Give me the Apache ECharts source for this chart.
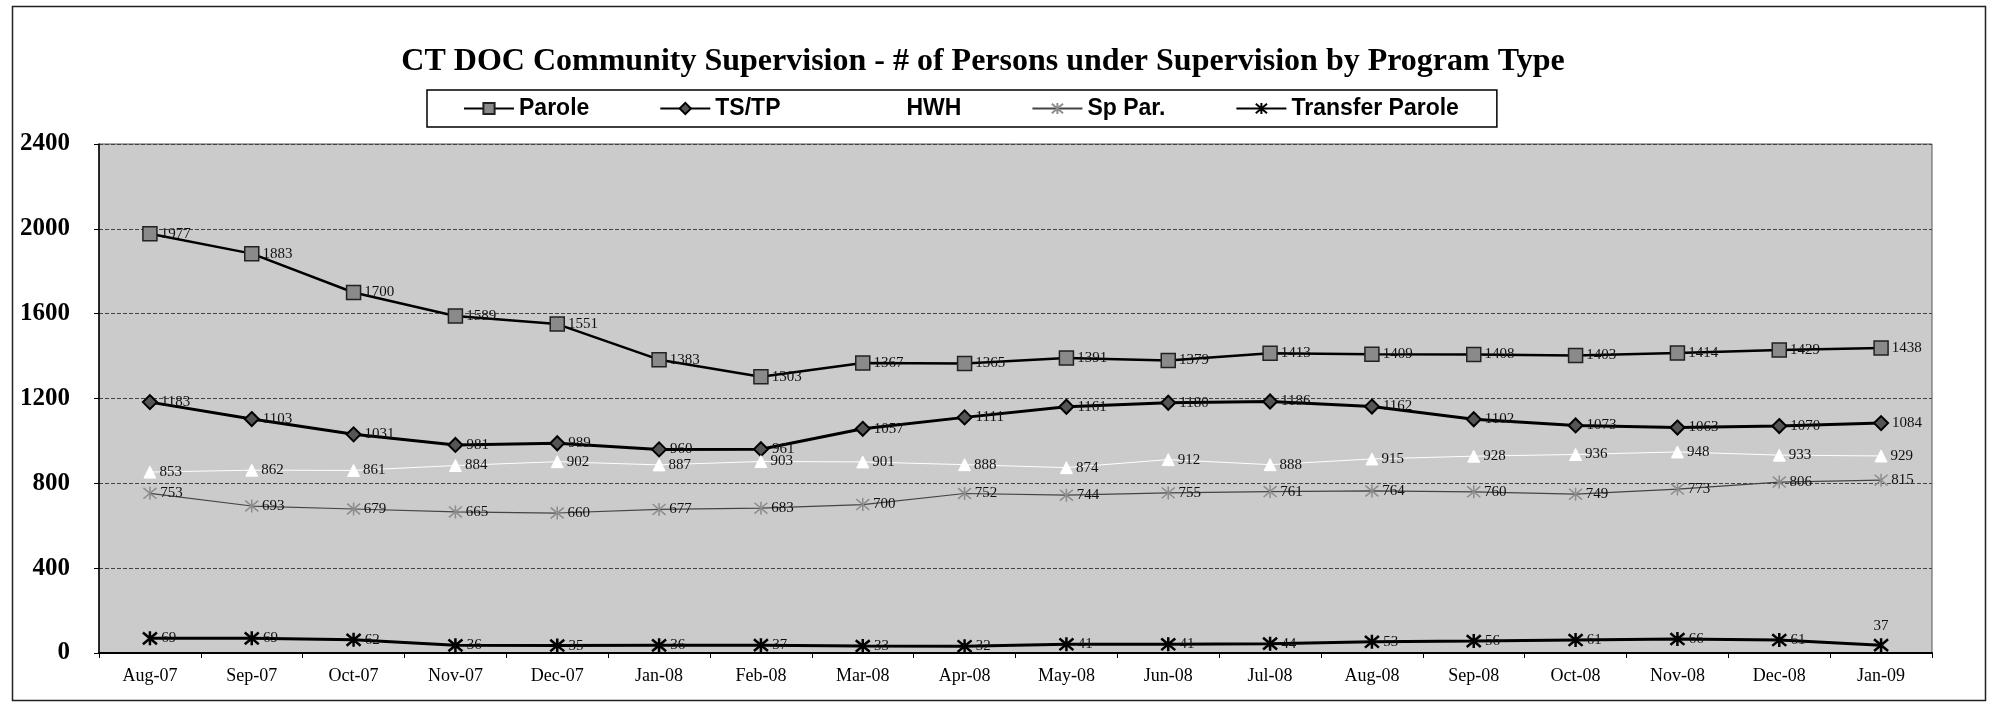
<!DOCTYPE html>
<html>
<head>
<meta charset="utf-8">
<script src="https://cdn.jsdelivr.net/npm/echarts@6/dist/echarts.min.js"></script>
<style>
  html, body { margin: 0; padding: 0; background: #fff; }
  #chart { width: 1989px; height: 707px; }
</style>
</head>
<body>
<div id="chart"></div>
<script>
var months = ['Aug-07', 'Sep-07', 'Oct-07', 'Nov-07', 'Dec-07', 'Jan-08', 'Feb-08', 'Mar-08', 'Apr-08',
    'May-08', 'Jun-08', 'Jul-08', 'Aug-08', 'Sep-08', 'Oct-08', 'Nov-08', 'Dec-08', 'Jan-09'];
var parole = [1977, 1883, 1700, 1589, 1551, 1383, 1303, 1367, 1365, 1391, 1379, 1413, 1409, 1408, 1403, 1414, 1429, 1438];
var tstp = [1183, 1103, 1031, 981, 989, 960, 961, 1057, 1111, 1161, 1180, 1186, 1162, 1102, 1073, 1063, 1070, 1084];
var hwh = [853, 862, 861, 884, 902, 887, 903, 901, 888, 874, 912, 888, 915, 928, 936, 948, 933, 929];
var spPar = [753, 693, 679, 665, 660, 677, 683, 700, 752, 744, 755, 761, 764, 760, 749, 773, 806, 815];
var transferParole = [69, 69, 62, 36, 35, 36, 37, 33, 32, 41, 41, 44, 53, 56, 61, 66, 61, 37];
var yTicks = [0, 400, 800, 1200, 1600, 2000, 2400];

var serif = '"Liberation Serif", "Times New Roman", serif';
var star = 'path://M0,0 L10,10 M10,0 L0,10 M5,-1 L5,11';

var chart = echarts.init(document.getElementById('chart'));

function lbl(pos) {
    return {
        show: true, position: pos || 'right', distance: 3,
        fontFamily: serif, fontSize: 15, color: '#111'
    };
}

var option = {
    animation: false,
    title: {
        text: 'CT DOC Community Supervision - # of Persons under Supervision by Program Type',
        left: 978, top: 41, textAlign: 'center',
        textStyle: { fontFamily: serif, fontSize: 32, fontWeight: 'bold', color: '#000' }
    },
    legend: {
        left: 427, top: 90,
        padding: [7, 38, 7, 36],
        borderColor: '#000', borderWidth: 1.5,
        itemWidth: 50, itemHeight: 14, itemGap: 70,
        textStyle: { fontFamily: '"Liberation Sans", Arial, sans-serif', fontSize: 23, fontWeight: 'bold', color: '#000' },
        data: ['Parole', 'TS/TP', 'HWH', 'Sp Par.', 'Transfer Parole']
    },
    graphic: [{
        type: 'rect', left: 10, top: 4,
        shape: { width: 1973, height: 694 },
        style: { fill: 'none', stroke: '#222', lineWidth: 1.5 },
        silent: true
    }],
    grid: {
        left: 99, right: 57, top: 144, bottom: 54,
        show: true, backgroundColor: '#cbcbcb', borderColor: '#555', borderWidth: 1
    },
    xAxis: {
        type: 'category', data: months, boundaryGap: true,
        axisLine: { lineStyle: { color: '#000', width: 2 } },
        axisTick: { show: true, interval: 0, length: 5, lineStyle: { color: '#000' } },
        axisLabel: { interval: 0, margin: 14, fontFamily: serif, fontSize: 18, color: '#000' }
    },
    yAxis: {
        type: 'value', min: yTicks[0], max: yTicks[yTicks.length - 1], interval: 400,
        axisLine: { show: true, lineStyle: { color: '#000', width: 1.5 } },
        axisTick: { show: true, length: 5, lineStyle: { color: '#000' } },
        axisLabel: {
            margin: 29, fontFamily: serif, fontSize: 25, fontWeight: 'bold', color: '#000',
            formatter: function (v) { return String(v); }
        },
        splitLine: { show: true, lineStyle: { color: '#444', width: 1, type: [4, 2] } }
    },
    series: [
        {
            name: 'Parole', type: 'line', data: parole,
            symbol: 'rect', symbolSize: 14,
            lineStyle: { color: '#000', width: 2.5 },
            itemStyle: { color: '#8a8a8a', borderColor: '#222', borderWidth: 1.5 },
            label: lbl()
        },
        {
            name: 'TS/TP', type: 'line', data: tstp,
            symbol: 'diamond', symbolSize: 14,
            lineStyle: { color: '#000', width: 3 },
            itemStyle: { color: '#555', borderColor: '#000', borderWidth: 2 },
            label: lbl()
        },
        {
            name: 'HWH', type: 'line', data: hwh,
            symbol: 'triangle', symbolSize: 12,
            lineStyle: { color: '#fff', width: 1 },
            itemStyle: { color: '#fff', borderColor: '#fff', borderWidth: 1 },
            label: lbl()
        },
        {
            name: 'Sp Par.', type: 'line', data: spPar,
            symbol: star, symbolSize: 13,
            lineStyle: { color: '#444', width: 1.2 },
            itemStyle: { color: '#999', borderColor: '#8c8c8c', borderWidth: 1.5 },
            label: lbl()
        },
        {
            name: 'Transfer Parole', type: 'line', data: transferParole,
            symbol: star, symbolSize: 14,
            lineStyle: { color: '#000', width: 3 },
            itemStyle: { color: '#000', borderColor: '#000', borderWidth: 2.5 },
            label: {
                show: true, position: 'right', distance: 3,
                fontFamily: serif, fontSize: 15, color: '#111',
                formatter: function (p) { return p.dataIndex === months.length - 1 ? '' : p.value; }
            },
            markPoint: {
                symbol: 'circle', symbolSize: 0,
                data: [{ coord: [months.length - 1, transferParole[transferParole.length - 1]], value: transferParole[transferParole.length - 1] }],
                label: { show: true, position: 'top', distance: 12, fontFamily: serif, fontSize: 15, color: '#111' }
            }
        }
    ]
};

chart.setOption(option);
</script>
</body>
</html>
